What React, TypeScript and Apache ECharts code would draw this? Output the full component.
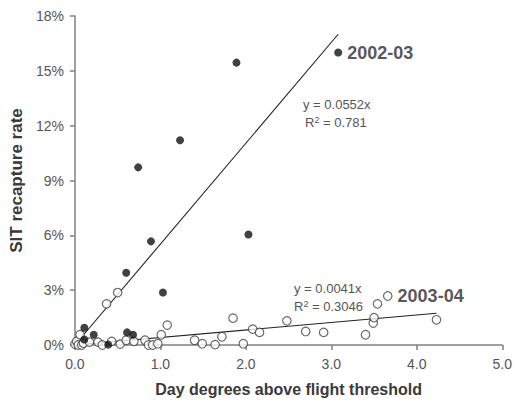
import React, { useEffect, useRef } from "react";
import * as echarts from "echarts";

const xTicks = [0, 1, 2, 3, 4, 5];
const yTicks = [0, 3, 6, 9, 12, 15, 18];

// 2002-03 season (filled dots): [day degrees, recapture %]
const season0203: [number, number][] = [
  [0.11, 0.94], [0.22, 0.56], [0.61, 0.69], [0.68, 0.56], [0.11, 0.3],
  [0.39, 0.02], [0.6, 3.95], [0.89, 5.67], [1.03, 2.87], [0.74, 9.72],
  [1.23, 11.2], [1.89, 15.45], [2.03, 6.05], [3.08, 16.0],
];

// 2003-04 season (open circles)
const season0304: [number, number][] = [
  [0.0, 0.05], [0.02, 0.2], [0.04, 0.0], [0.06, 0.56], [0.08, 0.0], [0.1, 0.1],
  [0.17, 0.16], [0.27, 0.16], [0.32, 0.0], [0.37, 2.25], [0.43, 0.2],
  [0.5, 2.87], [0.53, 0.05], [0.6, 0.26], [0.69, 0.2], [0.82, 0.26],
  [0.86, 0.0], [0.91, 0.0], [0.97, 0.07], [1.01, 0.56], [1.08, 1.09],
  [1.4, 0.26], [1.49, 0.07], [1.64, 0.02], [1.72, 0.45], [1.85, 1.47],
  [1.97, 0.07], [2.08, 0.87], [2.16, 0.69], [2.48, 1.32], [2.7, 0.74],
  [2.91, 0.69], [3.4, 0.56], [3.49, 1.2], [3.5, 1.5], [3.54, 2.25],
  [3.66, 2.68], [4.23, 1.38],
];

// Trend lines: y = slope * x (in %), drawn to the last x of each season
const slope0203 = 5.52;
const slope0304 = 0.41;
const trendEnd0203 = 3.08;
const trendEnd0304 = 4.23;

const labelPoint0203 = 13; // index of point labelled "2002-03"
const labelPoint0304 = 36; // index of point labelled "2003-04"

const FONT = "'Liberation Sans', Arial, sans-serif";

export default function App() {
  const ref = useRef<HTMLDivElement>(null);

  useEffect(() => {
    if (!ref.current) return;
    const chart = echarts.init(ref.current, undefined, { renderer: "svg" });

    const bigLabel = (text: string) => ({
      show: true,
      position: "right" as const,
      distance: 5,
      formatter: text,
      fontFamily: FONT,
      fontWeight: "bold" as const,
      fontSize: 18,
      color: "#2a2a2a",
    });

    const filled = season0203.map((p, i) =>
      i === labelPoint0203 ? { value: p, label: bigLabel("2002-03") } : { value: p }
    );
    const open = season0304.map((p, i) =>
      i === labelPoint0304 ? { value: p, label: bigLabel("2003-04") } : { value: p }
    );

    const axisColor = "#808080";
    const eqStyle = {
      fontFamily: FONT,
      fontSize: 13,
      fill: "#555",
    };
    const supRich = {
      sup: { fontSize: 9, verticalAlign: "top", fill: "#555", fontFamily: FONT, padding: [0, 0, 6, 0] },
    };

    chart.setOption({
      animation: false,
      backgroundColor: "#fff",
      grid: { left: 68, right: 10, top: 16, bottom: 54 },
      xAxis: {
        type: "value",
        min: xTicks[0],
        max: xTicks[xTicks.length - 1],
        interval: 1,
        name: "Day degrees above flight threshold",
        nameLocation: "middle",
        nameGap: 36,
        nameTextStyle: { fontFamily: FONT, fontWeight: "bold", fontSize: 16, color: "#3a3a3a" },
        axisLine: { lineStyle: { color: axisColor, width: 1.5 } },
        axisTick: { show: true, length: 5, lineStyle: { color: axisColor, width: 1.5 } },
        axisLabel: {
          margin: 12,
          fontFamily: FONT,
          fontSize: 14,
          color: "#555",
          formatter: (v: number) => v.toFixed(1),
        },
        splitLine: { show: false },
      },
      yAxis: {
        type: "value",
        min: yTicks[0],
        max: yTicks[yTicks.length - 1],
        interval: 3,
        name: "SIT recapture rate",
        nameLocation: "middle",
        nameGap: 48,
        nameTextStyle: { fontFamily: FONT, fontWeight: "bold", fontSize: 17, color: "#3a3a3a" },
        axisLine: { show: true, lineStyle: { color: axisColor, width: 1.5 } },
        axisTick: { show: true, length: 5, lineStyle: { color: axisColor, width: 1.5 } },
        axisLabel: {
          margin: 11,
          fontFamily: FONT,
          fontSize: 14,
          color: "#555",
          formatter: "{value}%",
        },
        splitLine: { show: false },
      },
      series: [
        {
          type: "line",
          data: [[0, 0], [trendEnd0203, slope0203 * trendEnd0203]],
          symbol: "none",
          lineStyle: { color: "#222", width: 1.1 },
          silent: true,
          z: 1,
        },
        {
          type: "line",
          data: [[0, 0], [trendEnd0304, slope0304 * trendEnd0304]],
          symbol: "none",
          lineStyle: { color: "#222", width: 1.1 },
          silent: true,
          z: 1,
        },
        {
          type: "scatter",
          data: filled,
          symbol: "circle",
          symbolSize: 8,
          itemStyle: { color: "#111" },
          z: 3,
        },
        {
          type: "scatter",
          data: open,
          symbol: "circle",
          symbolSize: 8.5,
          itemStyle: { color: "#fff", borderColor: "#444", borderWidth: 1.2 },
          z: 2,
        },
      ],
      graphic: [
        { type: "text", left: 303, top: 98, style: { ...eqStyle, text: "y = 0.0552x" } },
        { type: "text", left: 305, top: 115, style: { ...eqStyle, text: "R{sup|2} = 0.781", rich: supRich } },
        { type: "text", left: 294, top: 282, style: { ...eqStyle, text: "y = 0.0041x" } },
        { type: "text", left: 294, top: 299, style: { ...eqStyle, text: "R{sup|2} = 0.3046", rich: supRich } },
      ],
    });

    return () => chart.dispose();
  }, []);

  return (
    <div
      ref={ref}
      style={{ position: "absolute", left: 0, top: 0, width: 515, height: 402 }}
    />
  );
}
